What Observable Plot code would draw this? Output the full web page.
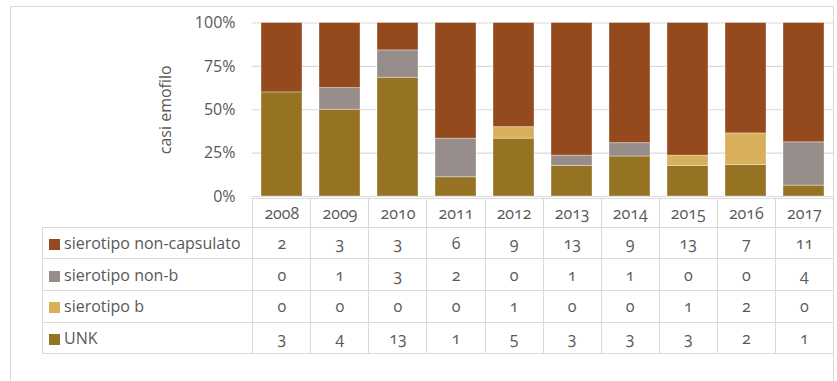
<!DOCTYPE html>
<html><head><meta charset="utf-8">
<script src="https://cdn.jsdelivr.net/npm/d3@7"></script>
<script src="https://cdn.jsdelivr.net/npm/@observablehq/plot@0.6"></script>
<style>
body{margin:0;width:837px;height:381px;overflow:hidden;background:#fff;font-family:"Open Sans",sans-serif;position:relative}
#frame{position:absolute;left:10px;top:6px;width:824px;height:420px;border:1px solid #d9d9d9;box-sizing:border-box}
#chart{position:absolute;left:0;top:0}
#chart svg{overflow:visible}
table{position:absolute;left:42px;top:198px;border-collapse:collapse;table-layout:fixed;font-size:16px;color:#595959;font-variant-numeric:oldstyle-nums}
td{border:1.5px solid #d9d9d9;text-align:center;padding:0;white-space:nowrap}
td.leg{text-align:left;padding-left:6px}
.sw{display:inline-block;width:11px;height:11px;margin-right:4px;vertical-align:-1px}
</style>
</head><body>
<div id="frame"></div>
<div id="chart"></div>
<table id="tbl"></table>
<script>
const years = ["2008","2009","2010","2011","2012","2013","2014","2015","2016","2017"];
const seriesNames = ["sierotipo non-capsulato","sierotipo non-b","sierotipo b","UNK"];
const nonCapsulato = [2,3,3,6,9,13,9,13,7,11];
const nonB = [0,1,3,2,0,1,1,0,0,4];
const tipoB = [0,0,0,0,1,0,0,1,2,0];
const unk = [3,4,13,1,5,3,3,3,2,1];
const seriesColors = ["#944a1c","#968d8a","#d8b05b","#957323"];
const yTicks = [0,0.25,0.5,0.75,1];

const valuesBySeries = [nonCapsulato, nonB, tipoB, unk];
// stacking order from bottom: UNK, b, non-b, non-capsulato
const rows = [];
[3,2,1,0].forEach(si => {
  years.forEach((yr, i) => {
    rows.push({year: yr, series: seriesNames[si], value: valuesBySeries[si][i]});
  });
});

const chart = Plot.plot({
  width: 837,
  height: 198,
  marginLeft: 252,
  marginRight: 4,
  marginTop: 22.5,
  marginBottom: 2,
  style: {color: "#595959", fontSize: "16px", fontFamily: "'Open Sans', sans-serif", fontVariantNumeric: "oldstyle-nums", background: "transparent"},
  x: {domain: years, paddingInner: 0.285, paddingOuter: 0.1425, axis: null},
  y: {domain: [0, 1], axis: null},
  color: {domain: seriesNames, range: seriesColors},
  marks: [
    Plot.gridY(yTicks, {stroke: "#d9d9d9", strokeOpacity: 1, strokeWidth: 1.2}),
    Plot.barY(rows, Plot.stackY({offset: "normalize", order: null}, {
      x: "year", y: "value", z: "series", fill: "series",
      filter: d => d.value > 0,
      stroke: "#ffffff", strokeOpacity: 0.35, strokeWidth: 1
    })),
    Plot.axisY({ticks: yTicks, tickFormat: d3.format(".0%"), tickSize: 0, tickPadding: 17, fontSize: 16,
      label: "casi emofilo", labelAnchor: "center", labelArrow: "none", labelOffset: 93})
  ]
});
document.getElementById("chart").appendChild(chart);

// data table
const tbl = document.getElementById("tbl");
const colg = document.createElement("colgroup");
const c0 = document.createElement("col"); c0.style.width = "210.3px"; colg.appendChild(c0);
years.forEach(() => { const c = document.createElement("col"); c.style.width = "58.07px"; colg.appendChild(c); });
tbl.appendChild(colg);
const hr = document.createElement("tr"); hr.style.height = "28.7px";
const h0 = document.createElement("td"); h0.style.borderTop = "none"; h0.style.borderLeft = "none"; hr.appendChild(h0);
years.forEach(y => { const td = document.createElement("td"); td.textContent = y; hr.appendChild(td); });
tbl.appendChild(hr);
seriesNames.forEach((name, si) => {
  const tr = document.createElement("tr"); tr.style.height = "31.7px";
  const td0 = document.createElement("td"); td0.className = "leg";
  const sw = document.createElement("span"); sw.className = "sw"; sw.style.background = seriesColors[si];
  td0.appendChild(sw); td0.appendChild(document.createTextNode(name));
  tr.appendChild(td0);
  valuesBySeries[si].forEach(v => { const td = document.createElement("td"); td.textContent = v; tr.appendChild(td); });
  tbl.appendChild(tr);
});
</script>
</body></html>
